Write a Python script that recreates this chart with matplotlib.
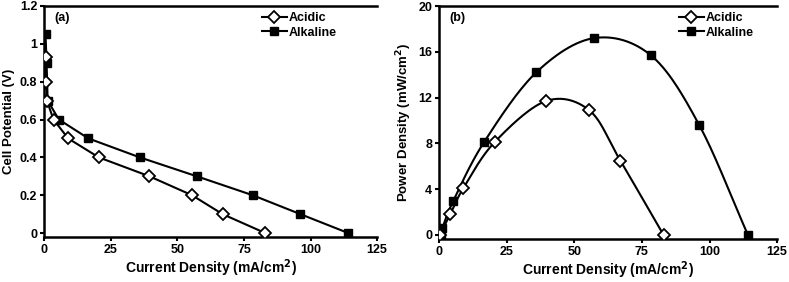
import numpy as np
import matplotlib
matplotlib.use("Agg")
import matplotlib.pyplot as plt
from matplotlib.lines import Line2D

plt.rcParams['font.family'] = ['Liberation Sans', 'DejaVu Sans']
plt.rcParams['font.weight'] = 'bold'

# ---- data ----
acid_i = [0.5, 0.8, 1.0, 3.5, 9.0, 20.5, 39.5, 55.5, 67.0, 83.0]
acid_v = [0.93, 0.80, 0.70, 0.60, 0.50, 0.40, 0.30, 0.20, 0.10, 0.00]
alk_i = [0.5, 0.9, 1.3, 5.5, 16.6, 35.9, 57.3, 78.3, 96.2, 114.2]
alk_v = [1.05, 0.90, 0.70, 0.60, 0.50, 0.40, 0.30, 0.20, 0.10, 0.00]

acid_pi = [0.3, 4.1, 9.0, 20.5, 39.5, 55.5, 67.0, 83.0]
acid_p = [0.0, 1.8, 4.1, 8.1, 11.7, 10.9, 6.5, 0.0]
alk_pi = [0.6, 1.2, 5.3, 16.6, 35.9, 57.3, 78.3, 96.2, 114.2]
alk_p = [0.0, 0.6, 3.0, 8.1, 14.2, 17.2, 15.7, 9.6, 0.0]

labels = ['Acidic', 'Alkaline']
x_ticks = [0, 25, 50, 75, 100, 125]
ya_ticks = [0, 0.2, 0.4, 0.6, 0.8, 1.0, 1.2]
ya_labels = ['0', '0.2', '0.4', '0.6', '0.8', '1', '1.2']
yb_ticks = [0, 4, 8, 12, 16, 20]


def smooth(x, y, n=30):
    """Catmull-Rom rendering of a line through the data points."""
    x = np.asarray(x, float); y = np.asarray(y, float)
    px = np.concatenate([[2 * x[0] - x[1]], x, [2 * x[-1] - x[-2]]])
    py = np.concatenate([[2 * y[0] - y[1]], y, [2 * y[-1] - y[-2]]])
    xs, ys = [], []
    for k in range(1, len(px) - 2):
        t = np.linspace(0, 1, n, endpoint=False)
        for arr, out in ((px, xs), (py, ys)):
            p0, p1, p2, p3 = arr[k - 1], arr[k], arr[k + 1], arr[k + 2]
            out.extend(0.5 * ((2 * p1) + (-p0 + p2) * t + (2 * p0 - 5 * p1 + 4 * p2 - p3) * t ** 2
                              + (-p0 + 3 * p1 - 3 * p2 + p3) * t ** 3))
    xs.append(x[-1]); ys.append(y[-1])
    return xs, ys


fig = plt.figure(figsize=(7.89, 2.82), dpi=100)
axa = fig.add_axes([0.056, 0.160, 0.422, 0.819])
axb = fig.add_axes([0.5565, 0.1525, 0.4285, 0.826])

mk_acid = dict(marker='D', markersize=6, markerfacecolor='white', markeredgecolor='black', markeredgewidth=1.3)
mk_alk = dict(marker='s', markersize=6, markerfacecolor='black', markeredgecolor='black')

# panel a
axa.plot(acid_i, acid_v, color='black', lw=1.5, **mk_acid, zorder=3)
axa.plot(alk_i, alk_v, color='black', lw=1.5, **mk_alk, zorder=2)
axa.set_xlim(0, 125)
axa.set_ylim(-0.02, 1.2)
axa.set_yticks(ya_ticks)
axa.set_yticklabels(ya_labels)
axa.set_ylabel('Cell Potential (V)', fontsize=9.5, fontweight='bold', labelpad=3)

# panel b
for xi, yi, mk, z in ((acid_pi, acid_p, mk_acid, 3), (alk_pi, alk_p, mk_alk, 2)):
    sx, sy = smooth(xi, yi)
    axb.plot(sx, sy, color='black', lw=1.5, zorder=z)
    axb.plot(xi, yi, linestyle='none', **mk, zorder=z + 1)
axb.set_xlim(0, 125)
axb.set_ylim(-0.35, 20)
axb.set_yticks(yb_ticks)
axb.set_ylabel('Power Density (mW/cm$^\\mathbf{2}$)', fontsize=9.5, fontweight='bold', labelpad=3)

for ax, tag, lx in ((axa, '(a)', 0.635), (axb, '(b)', 0.69)):
    ax.set_xticks(x_ticks)
    ax.set_xlabel('Current Density (mA/cm$^\\mathbf{2}$)', fontsize=10, fontweight='bold', labelpad=1)
    ax.spines['right'].set_visible(False)
    for s in ('left', 'bottom', 'top'):
        ax.spines[s].set_linewidth(1.8)
    ax.tick_params(direction='out', length=3, width=1.5, labelsize=9, pad=2)
    ax.text(0.03, 0.975, tag, transform=ax.transAxes, fontsize=9, fontweight='bold', va='top', ha='left')
    handles = [Line2D([], [], color='black', lw=1.5, **mk_acid),
               Line2D([], [], color='black', lw=1.5, **mk_alk)]
    ax.legend(handles, labels, loc='upper left', bbox_to_anchor=(lx, 1.0), frameon=False,
              prop={'size': 9, 'weight': 'bold'}, handlelength=2.0, handletextpad=0.15,
              labelspacing=0.2, borderaxespad=0.0, borderpad=0.5)

fig.savefig('out.png', dpi=100)
